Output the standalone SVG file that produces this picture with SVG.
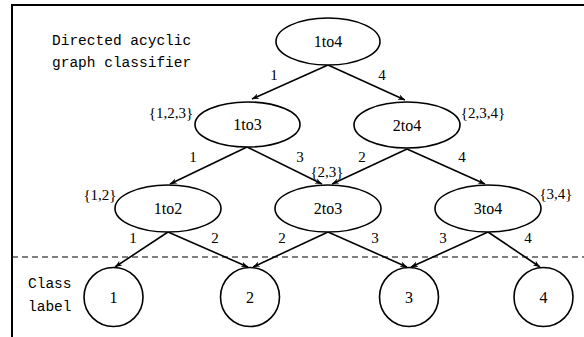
<svg xmlns="http://www.w3.org/2000/svg" width="584" height="337" viewBox="0 0 584 337">
<style>
.n{fill:#fff;stroke:#000;stroke-width:1.6}
.t{font-family:'Liberation Serif', serif;font-size:16px;fill:#000;text-anchor:middle}
.l{font-family:'Liberation Serif', serif;font-size:15px;fill:#000;text-anchor:middle}
.m{font-family:'Liberation Mono', monospace;font-size:14.5px;fill:#000}
.e{stroke:#000;stroke-width:1.6;fill:none;marker-end:url(#arr)}
</style>
<defs>
<marker id="arr" viewBox="0 0 10 10" refX="10" refY="5" markerWidth="7" markerHeight="7" markerUnits="userSpaceOnUse" orient="auto">
<path d="M0,1 L10,5 L0,9 L3,5 Z" fill="#000"/>
</marker>
</defs>
<rect width="584" height="337" fill="#fff"/>
<path d="M12,337 V5 H584" fill="none" stroke="#000" stroke-width="2"/>
<line x1="12" y1="257" x2="584" y2="257" stroke="#000" stroke-width="1.2" stroke-dasharray="6,4"/>
<text class="m" x="52" y="45">Directed acyclic</text>
<text class="m" x="52" y="67">graph classifier</text>
<text class="m" x="28" y="288">Class</text>
<text class="m" x="28" y="311">label</text>
<g id="connectors">
<line class="e" x1="328" y1="65" x2="252" y2="99"/>
<line class="e" x1="328" y1="65" x2="405" y2="100"/>
<line class="e" x1="247" y1="147" x2="170" y2="184"/>
<line class="e" x1="247" y1="147" x2="322" y2="184"/>
<line class="e" x1="407" y1="149" x2="332" y2="184"/>
<line class="e" x1="407" y1="149" x2="485" y2="184"/>
<line class="e" x1="168" y1="232" x2="115" y2="267"/>
<line class="e" x1="168" y1="232" x2="248" y2="267"/>
<line class="e" x1="328" y1="232" x2="253" y2="267"/>
<line class="e" x1="328" y1="232" x2="407" y2="267"/>
<line class="e" x1="488" y1="232" x2="411" y2="267"/>
<line class="e" x1="488" y1="232" x2="540" y2="267"/>
<text class="l" x="274" y="80">1</text>
<text class="l" x="382" y="80">4</text>
<text class="l" x="193" y="162">1</text>
<text class="l" x="300" y="162">3</text>
<text class="l" x="362" y="162">2</text>
<text class="l" x="462" y="162">4</text>
<text class="l" x="133" y="243">1</text>
<text class="l" x="215" y="243">2</text>
<text class="l" x="282" y="243">2</text>
<text class="l" x="375" y="243">3</text>
<text class="l" x="443" y="243">3</text>
<text class="l" x="528" y="243">4</text>
</g>
<g id="n1to4"><ellipse class="n" cx="328" cy="41.5" rx="52" ry="23.5"/><text class="t" x="328" y="47">1to4</text></g>
<g id="n1to3"><ellipse class="n" cx="247.5" cy="124.5" rx="52.5" ry="22.5"/><text class="t" x="247.5" y="130">1to3</text><text class="l" x="171" y="118">{1,2,3}</text></g>
<g id="n2to4"><ellipse class="n" cx="407" cy="125" rx="53" ry="23"/><text class="t" x="407" y="130.5">2to4</text><text class="l" x="483" y="118">{2,3,4}</text></g>
<g id="n1to2"><ellipse class="n" cx="168" cy="208.5" rx="53" ry="23.5"/><text class="t" x="168" y="214">1to2</text><text class="l" x="100" y="200">{1,2}</text></g>
<g id="n2to3"><ellipse class="n" cx="328" cy="208.5" rx="53" ry="23.5"/><text class="t" x="328" y="214">2to3</text><text class="l" x="327" y="177">{2,3}</text></g>
<g id="n3to4"><ellipse class="n" cx="488" cy="208.5" rx="53" ry="23.5"/><text class="t" x="488" y="214">3to4</text><text class="l" x="556" y="199">{3,4}</text></g>
<g id="c1"><circle class="n" cx="113.5" cy="297" r="29.5"/><text class="t" x="113.5" y="302.5">1</text></g>
<g id="c2"><circle class="n" cx="250" cy="297" r="29.5"/><text class="t" x="250" y="302.5">2</text></g>
<g id="c3"><circle class="n" cx="409" cy="297" r="29.5"/><text class="t" x="409" y="302.5">3</text></g>
<g id="c4"><circle class="n" cx="543.5" cy="297" r="29.5"/><text class="t" x="543.5" y="302.5">4</text></g>
</svg>
